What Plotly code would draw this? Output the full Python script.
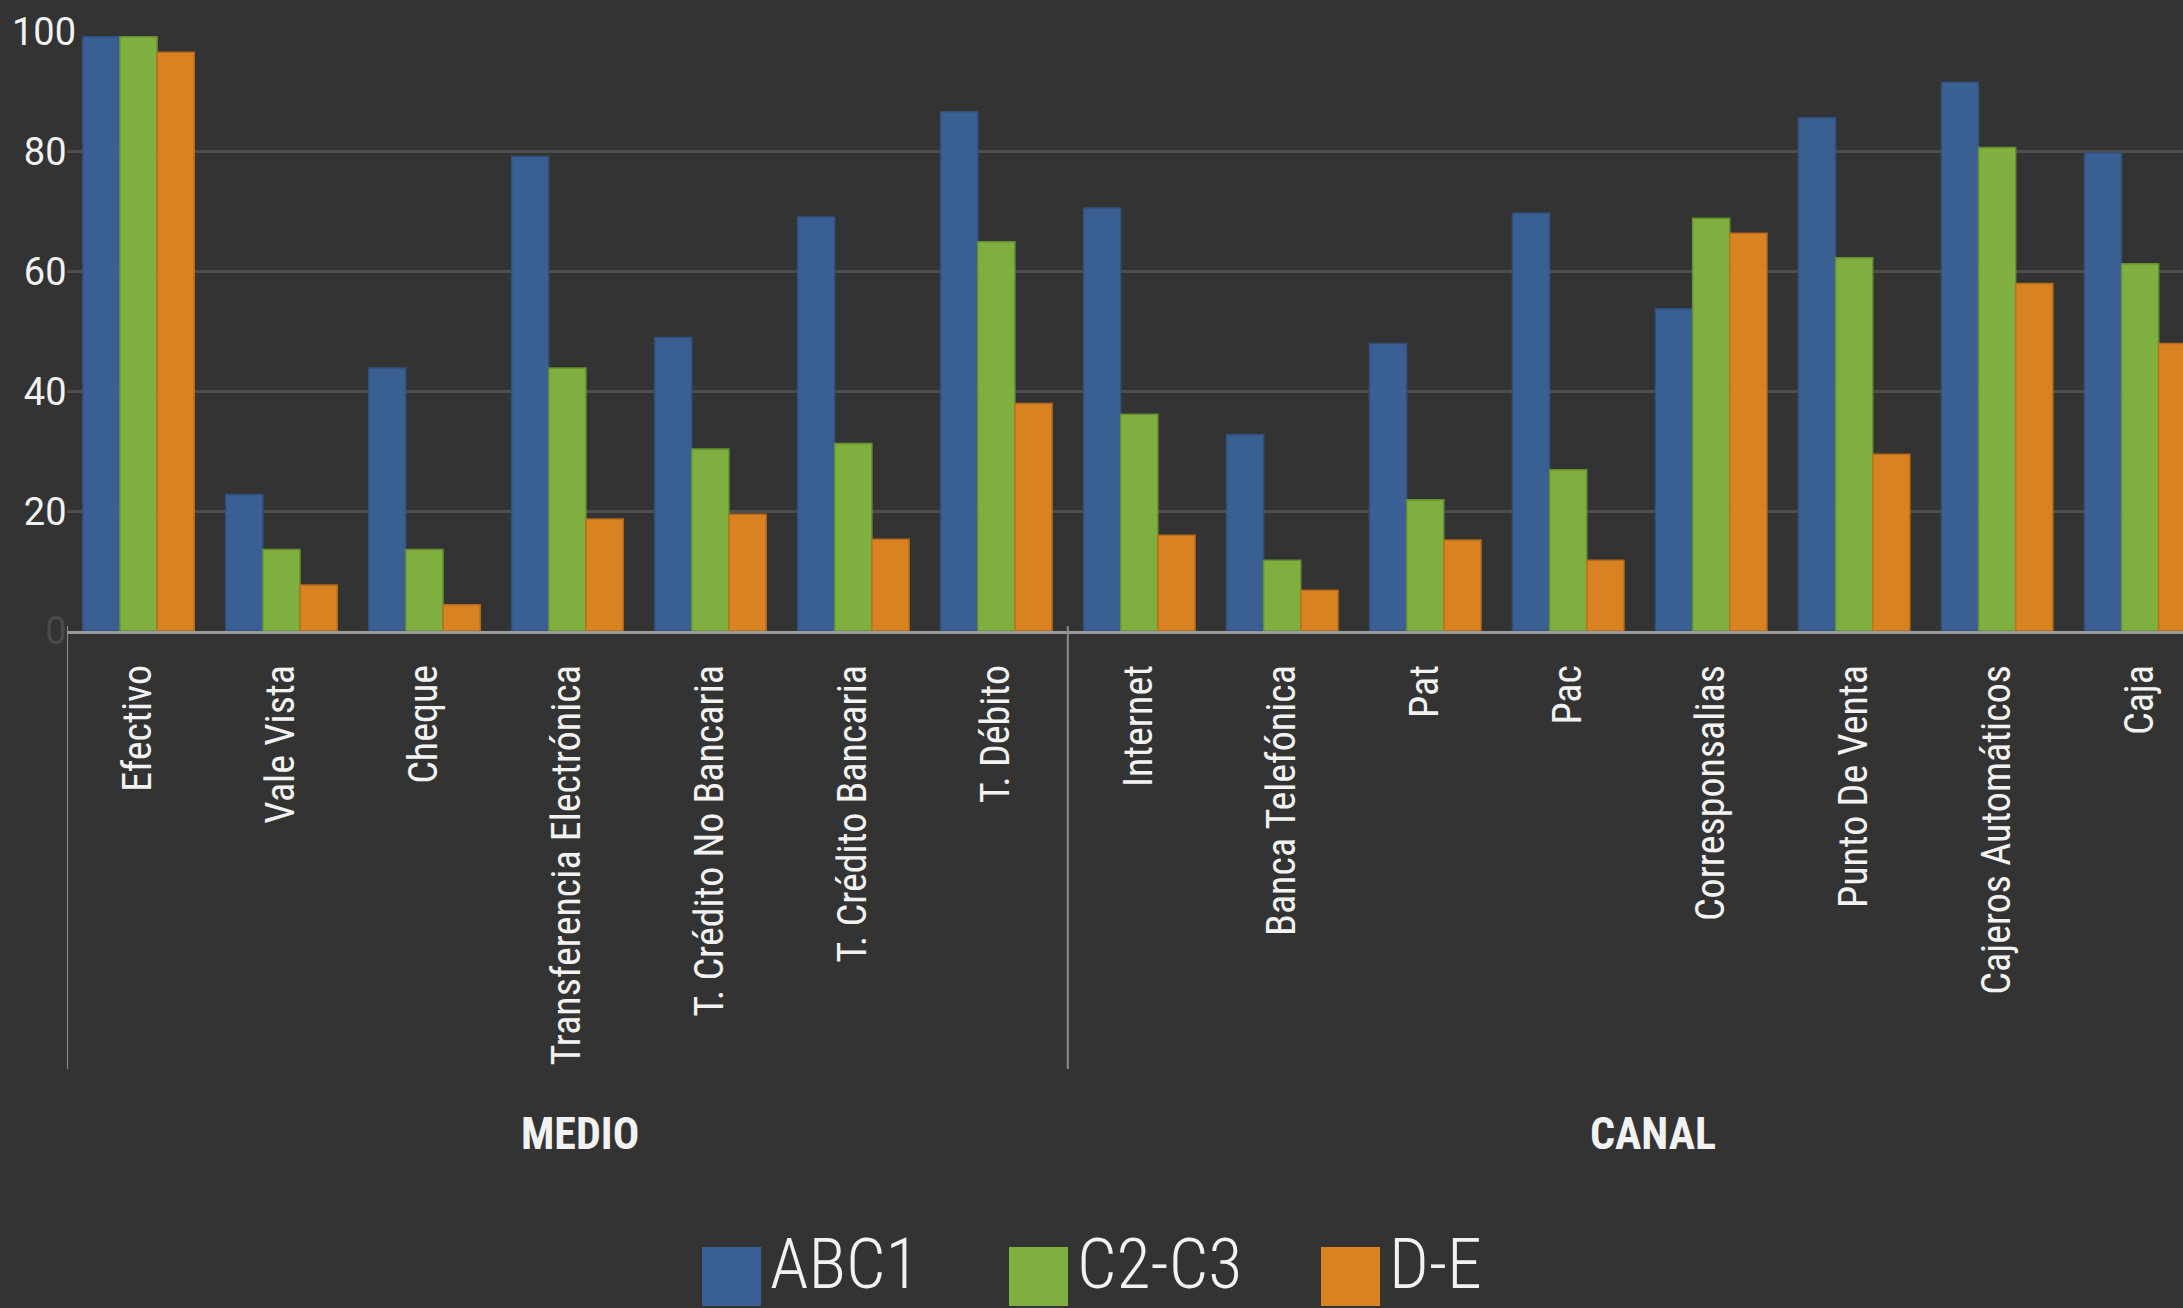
import plotly.graph_objects as go

# ---------------- data ----------------
groups = ["MEDIO"] * 7 + ["CANAL"] * 8
categories = [
    "Efectivo", "Vale Vista", "Cheque", "Transferencia Electrónica",
    "T. Crédito No Bancaria", "T. Crédito Bancaria", "T. Débito",
    "Internet", "Banca Telefónica", "Pat", "Pac", "Corresponsalias",
    "Punto De Venta", "Cajeros Automáticos", "Caja",
]
abc1 = [99.2, 22.8, 43.9, 79.2, 49.0, 69.1, 86.7, 70.6, 32.8, 48.0, 69.8, 53.8, 85.7, 91.6, 79.8]
c2c3 = [99.2, 13.6, 13.6, 43.9, 30.4, 31.3, 65.0, 36.2, 11.8, 21.9, 26.9, 68.9, 62.3, 80.7, 61.3]
de = [96.6, 7.7, 4.4, 18.7, 19.5, 15.3, 38.0, 16.0, 6.8, 15.2, 11.8, 66.4, 29.5, 58.0, 48.0]
series_names = ["ABC1", "C2-C3", "D-E"]
series_values = [abc1, c2c3, de]
y_ticks = [0, 20, 40, 60, 80, 100]
y_ticktext = ['<span style="color:#4a4a4a">0</span>\u00a0', "20\u00a0", "40\u00a0", "60\u00a0", "80\u00a0", "100"]

# ---------------- style ----------------
BG = "#333333"
TXT = "#f2f2f2"
fill_colors = ["rgb(59,100,155)", "rgb(133,185,64)", "rgb(230,137,32)"]
line_colors = ["rgb(48,82,128)", "rgb(105,150,50)", "rgb(190,112,25)"]
NARROW = "Roboto Condensed, Liberation Sans Narrow, DejaVu Sans Condensed, Roboto, sans-serif"

W, H = 2183, 1308
PL, PT, PB, PR = 67, 32, 677, 0
PW, PH = W - PL - PR, H - PT - PB
X_RANGE = [-0.5, 14.3]


def px(x):
    return (x - PL) / PW


def py(y):
    return (PT + PH - y) / PH


fig = go.Figure()
for name, vals, fc, lc in zip(series_names, series_values, fill_colors, line_colors):
    fig.add_trace(go.Bar(
        x=categories, y=vals, name=name,
        marker=dict(color=fc, line=dict(color=lc, width=1.5)),
        opacity=0.93, showlegend=False,
    ))

# group dividers and group labels (derived from the groups list)
bounds = [-0.5]
for i in range(1, len(groups)):
    if groups[i] != groups[i - 1]:
        bounds.append(i - 0.5)
bounds.append(len(groups) - 0.5)
group_names = []
for g in groups:
    if g not in group_names:
        group_names.append(g)

for b in bounds:
    fig.add_shape(type="line", xref="x", yref="paper", x0=b, x1=b,
                  y0=py(1069), y1=py(626), line=dict(color="#8c8c8c", width=2))
for gname, a, b in zip(group_names, bounds[:-1], bounds[1:]):
    fig.add_annotation(xref="x", yref="paper", x=(a + b) / 2 + 0.09, y=py(1134),
                       text="<b>" + gname + "</b>", showarrow=False,
                       xanchor="center", yanchor="middle",
                       font=dict(family=NARROW, size=44, color=TXT))

# manual legend (large squares)
legend_sq_left = [702, 1009, 1321]
for name, fc, x0 in zip(series_names, fill_colors, legend_sq_left):
    fig.add_shape(type="rect", xref="paper", yref="paper",
                  x0=px(x0), x1=px(x0 + 59), y0=py(1306), y1=py(1247),
                  fillcolor=fc, line=dict(width=0), opacity=0.93)
    fig.add_annotation(xref="paper", yref="paper", x=px(x0 + 66), y=py(1307),
                       text=name, showarrow=False, xanchor="left", yanchor="bottom",
                       font=dict(family=NARROW, size=70, color=TXT, weight=300))

fig.update_layout(
    width=W, height=H, autosize=False,
    margin=dict(l=PL, r=PR, t=PT, b=PB, pad=0),
    paper_bgcolor=BG, plot_bgcolor=BG,
    barmode="group", bargap=0.22, bargroupgap=0,
    showlegend=False,
    font=dict(family=NARROW, color=TXT),
)
fig.update_yaxes(
    range=[0, 100], tickvals=y_ticks, ticktext=y_ticktext,
    showgrid=True, gridcolor="#4e4e4e", gridwidth=3,
    zeroline=False, showline=False, ticks="",
    ticklabelstandoff=-10,
    tickfont=dict(family="Roboto, sans-serif", size=38, color=TXT),
)
fig.update_xaxes(
    type="category", range=X_RANGE,
    showline=True, linecolor="#9a9a9a", linewidth=3,
    showgrid=False, ticks="", tickangle=-90,
    ticklabelstandoff=15,
    tickfont=dict(family=NARROW, size=40, color=TXT),
)

fig.write_html("out.html")
